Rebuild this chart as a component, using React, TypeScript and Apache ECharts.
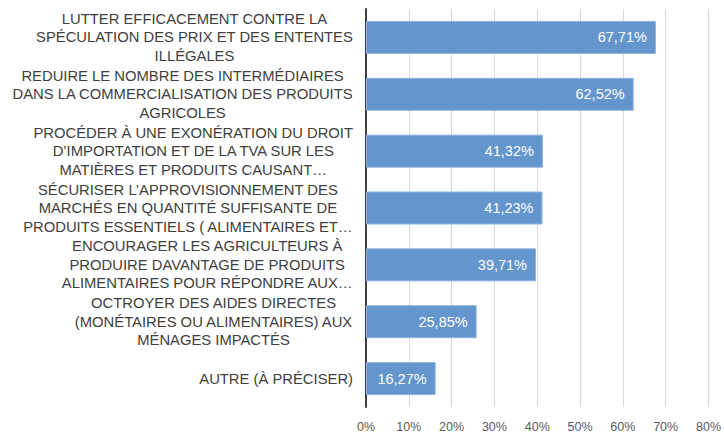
import React, { useEffect, useRef } from "react";
import * as echarts from "echarts";

const categories: string[] = [
  "LUTTER EFFICACEMENT CONTRE LA\nSPÉCULATION DES PRIX ET DES ENTENTES\nILLÉGALES",
  "REDUIRE LE NOMBRE DES INTERMÉDIAIRES\nDANS LA COMMERCIALISATION DES PRODUITS\nAGRICOLES",
  "PROCÉDER À UNE EXONÉRATION DU DROIT\nD’IMPORTATION ET DE LA TVA SUR LES\nMATIÈRES ET PRODUITS CAUSANT…",
  "SÉCURISER L’APPROVISIONNEMENT DES\nMARCHÉS EN QUANTITÉ SUFFISANTE DE\nPRODUITS ESSENTIELS ( ALIMENTAIRES ET…",
  "ENCOURAGER LES AGRICULTEURS À\nPRODUIRE DAVANTAGE DE PRODUITS\nALIMENTAIRES POUR RÉPONDRE AUX…",
  "OCTROYER DES AIDES DIRECTES\n(MONÉTAIRES OU ALIMENTAIRES) AUX\nMÉNAGES IMPACTÉS",
  "AUTRE (À PRÉCISER)",
];

const values: number[] = [67.71, 62.52, 41.32, 41.23, 39.71, 25.85, 16.27];

const xTicks = { min: 0, max: 80, interval: 10 };

const FONT = "Liberation Sans, Arial, sans-serif";

export default function App() {
  const ref = useRef<HTMLDivElement>(null);
  useEffect(() => {
    if (!ref.current) return;
    const chart = echarts.init(ref.current, undefined, { renderer: "svg" });
    chart.setOption({
      animation: false,
      backgroundColor: "#ffffff",
      grid: { left: 366, right: 10, top: 9, bottom: 28, containLabel: false },
      xAxis: {
        type: "value",
        min: xTicks.min,
        max: xTicks.max,
        interval: xTicks.interval,
        axisLine: { show: false },
        axisTick: { show: false },
        axisLabel: {
          formatter: "{value}%",
          color: "#595959",
          fontFamily: FONT,
          fontSize: 12.5,
          margin: 13,
        },
        splitLine: { lineStyle: { color: "#d9d9d9", width: 1 } },
      },
      yAxis: {
        type: "category",
        inverse: true,
        data: categories,
        axisLine: { show: true, lineStyle: { color: "#404040", width: 2 } },
        axisTick: { show: false },
        axisLabel: {
          margin: 13,
          align: "right",
          color: "#404040",
          fontFamily: FONT,
          fontSize: 14.8,
          lineHeight: 18.5,
          formatter: (v: string) =>
            v
              .split("\n")
              .map((l) => `{c|${l}}`)
              .join("\n"),
          rich: {
            c: {
              align: "center",
              color: "#404040",
              fontFamily: FONT,
              fontSize: 14.8,
              lineHeight: 18.5,
            },
          },
        },
      },
      series: [
        {
          type: "bar",
          data: values,
          barWidth: "58%",
          itemStyle: {
            color: "#6495cc",
            borderColor: "#8fb2dd",
            borderWidth: 1,
          },
          label: {
            show: true,
            position: "insideRight",
            distance: 9,
            color: "#ffffff",
            fontFamily: FONT,
            fontSize: 14.5,
            formatter: (p: any) =>
              p.value.toFixed(2).replace(".", ",") + "%",
          },
        },
      ],
    });
    return () => chart.dispose();
  }, []);
  return (
    <div
      ref={ref}
      style={{ position: "fixed", left: 0, top: 0, width: 724, height: 435 }}
    />
  );
}
